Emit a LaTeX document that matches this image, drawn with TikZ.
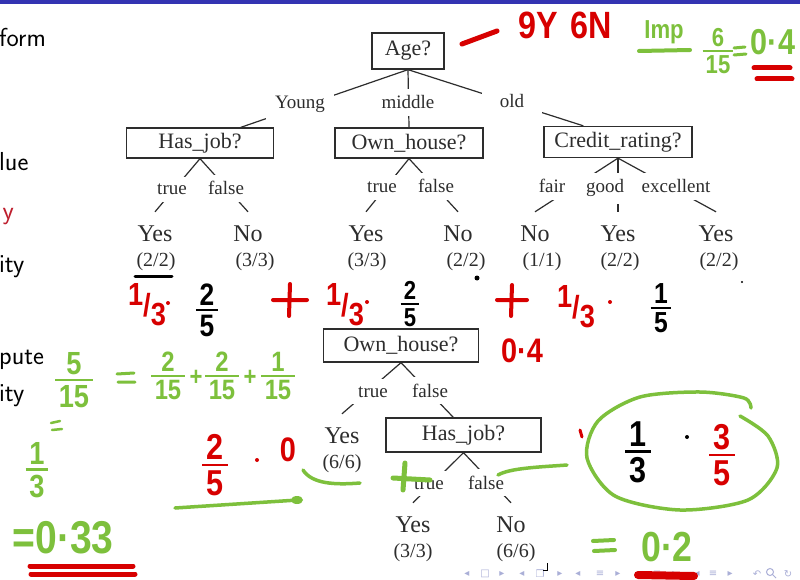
\documentclass[tikz,border=0pt]{standalone}
\usepackage{amsmath}
\usepackage{fontspec}
\setmainfont{Liberation Serif}
\newfontfamily\handfont[FakeStretch=0.85]{Liberation Sans}
\newfontfamily\navfont{DejaVu Sans}

\definecolor{beamerblue}{RGB}{51,51,178}
\definecolor{treeink}{RGB}{45,45,45}
\definecolor{alertred}{RGB}{190,30,45}
\definecolor{penred}{RGB}{215,0,0}
\definecolor{pengreen}{RGB}{125,192,60}
\definecolor{navgray}{RGB}{170,175,215}

\newcommand{\pxsize}[1]{\fontsize{#1}{#1}\selectfont}
\newcommand{\lift}{\rule{0pt}{28pt}}
% stacked pen fraction with a thick bar
\newcommand{\hwfrac}[2]{\ensuremath{\vcenter{\offinterlineskip\halign{\hfil\kern.12em##\kern.12em\hfil\cr
    #1\cr\noalign{\kern.12em\hrule height 2.4pt\kern.12em}#2\cr}}}}
\newcommand{\hwslash}[2]{\raisebox{.33em}{#1}/\raisebox{-.3em}{#2}}

\begin{document}
\begin{tikzpicture}[x=1pt, y=-1pt,
    % decision boxes of the tree
    qbox/.style={rectangle, draw=treeink, line width=1.3pt, inner sep=0pt,
                 minimum height=30pt, text=treeink, font=\pxsize{22}},
    % branch values, white so that they break the branch lines
    blabel/.style={fill=white, text=treeink, inner xsep=9pt, inner ysep=7pt,
                   anchor=base, font=\pxsize{19}},
    % class of a leaf (\lift raises its north anchor) and its count
    leaf/.style={text=treeink, inner sep=1pt, anchor=base, font=\pxsize{24}},
    nleaf/.style={text=treeink, inner sep=1pt, anchor=base, font=\pxsize{20}},
    branch/.style={draw=treeink, line width=1.2pt},
    % slide text cut off at the left edge
    slide/.style={anchor=base west, inner sep=0pt, font=\sffamily\pxsize{26}},
    % pen notes written over the slide
    penote/.style={inner sep=0pt, font=\handfont\bfseries\pxsize{#1}},
    penote/.default=32,
    inkline/.style={line width=4pt, line cap=round, line join=round},
    navsym/.style={text=navgray, inner sep=0pt, font=\navfont\pxsize{10}}
]
\useasboundingbox (0,0) rectangle (800,580);
\fill[white] (0,0) rectangle (800,580);
\fill[beamerblue] (0,0) rectangle (800,4);

%-------- SLIDE TEXT --------
\node[slide] (sform) at (-1,47) {form};
\node[slide] (slue) at (-1,171) {lue};
\node[slide, text=alertred, anchor=base east] (sy) at (14,219) {y};
\node[slide] (sity) at (-1,272) {ity};
\node[slide] (spute) at (-1,364) {pute};
\node[slide] (sitytwo) at (-1,401) {ity};

%-------- FULL TREE --------
\node[qbox, minimum width=72pt, minimum height=36pt] (age) at (408,51) {Age?};
\node[qbox, minimum width=147pt] (hasjob) at (200,143) {Has\_job?};
\node[qbox, minimum width=148pt] (ownhouse) at (409,143) {Own\_house?};
\node[qbox, minimum width=148pt, minimum height=31pt] (credit) at (618,142) {Credit\_rating?};

\node[leaf] (hjyes) at (155,241) {\lift Yes};
\node[nleaf] (hjyesn) at (156,266) {(2/2)};
\node[leaf] (hjno) at (248,241) {\lift No};
\node[nleaf] (hjnon) at (255,266) {(3/3)};
\node[leaf] (ohyes) at (366,241) {\lift Yes};
\node[nleaf] (ohyesn) at (367,266) {(3/3)};
\node[leaf] (ohno) at (458,241) {\lift No};
\node[nleaf] (ohnon) at (466,266) {(2/2)};
\node[leaf] (crno) at (535,241) {\lift No};
\node[nleaf] (crnon) at (542,266) {(1/1)};
\node[leaf] (cryes) at (618,241) {\lift Yes};
\node[nleaf] (cryesn) at (620,266) {(2/2)};
\node[leaf] (crexc) at (716,241) {\lift Yes};
\node[nleaf] (crexcn) at (719,266) {(2/2)};

\draw[branch] (age.south) -- (hasjob.21);
\draw[branch] (age.south) -- (ownhouse.north);
\draw[branch] (age.south) -- (credit.155);
\draw[branch] (hasjob.south) -- (hjyes.north);
\draw[branch] (hasjob.south) -- (hjno.north);
\draw[branch] (ownhouse.south) -- (ohyes.north);
\draw[branch] (ownhouse.south) -- (ohno.north);
\draw[branch] (credit.south) -- (crno.north);
\draw[branch] (credit.south) -- (cryes.north);
\draw[branch] (credit.south) -- (crexc.north);

\node[blabel] (lyoung) at (300,109) {Young};
\node[blabel] (lmiddle) at (408,109) {middle};
\node[blabel, inner xsep=18pt] (lold) at (512,108) {old};
\node[blabel] (lhjtrue) at (172,195) {true};
\node[blabel] (lhjfalse) at (226,195) {false};
\node[blabel] (lohtrue) at (382,193) {true};
\node[blabel] (lohfalse) at (436,193) {false};
\node[blabel, inner xsep=14pt] (lfair) at (552,193) {fair};
\node[blabel] (lgood) at (605,193) {good};
\node[blabel] (lexc) at (676,193) {excellent};

%-------- TREE FOR OLD = TRUE SPLIT --------
\node[qbox, minimum width=155pt, minimum height=33pt] (ownhousetwo) at (401,345.5) {Own\_house?};
\node[qbox, minimum width=155pt, minimum height=34pt] (hasjobtwo) at (463.5,435) {Has\_job?};
\node[leaf] (ohtyes) at (342,443) {\lift Yes};
\node[nleaf] (ohtyesn) at (342,468) {(6/6)};
\node[leaf] (hjtyes) at (413,532) {\lift Yes};
\node[nleaf] (hjtyesn) at (413,557) {(3/3)};
\node[leaf] (hjtno) at (511,532) {\lift No};
\node[nleaf] (hjtnon) at (516,557) {(6/6)};

\draw[branch] (ownhousetwo.south) -- (ohtyes.north);
\draw[branch] (ownhousetwo.south) -- (hasjobtwo.120);
\draw[branch] (hasjobtwo.south) -- (hjtyes.north);
\draw[branch] (hasjobtwo.south) -- (hjtno.north);

\node[blabel] (lohttrue) at (373,397) {true};
\node[blabel] (lohtfalse) at (430,397) {false};
\node[blabel] (lhjttrue) at (429,489) {true};
\node[blabel] (lhjtfalse) at (486,489) {false};

%-------- NAVIGATION SYMBOLS --------
\foreach \x/\s in {467/◂, 485/□, 502/▸, 522/◂, 540/❐, 560/▸, 578/◂, 600/≡, 618/▸,
                   640/◂, 657/≡, 675/▸, 697/◂, 713/≡, 730/▸, 757/↶, 788/↻}
    \node[navsym] (nav\x) at (\x,574) {\s};
\draw[navgray, line width=1pt] (770,572) circle (3.5) (772.5,574.5) -- (776,578);
\draw[black, line width=1pt] (547,563) -- (547,570) -- (543,570);

%-------- PEN NOTES: TOP --------
\draw[inkline, penred, line width=5pt] (462,44) -- (497,31);
\node[penote=38, text=penred] (counts) at (565,25) {9Y\hspace{12pt}6N};
\node[penote=26, text=pengreen] (imp) at (664,32) {Imp};
\draw[inkline, pengreen] (639,51) -- (690,50);
\node[penote=26, text=pengreen] (impfrac) at (718,51) {\hwfrac{6}{15}};
\draw[inkline, pengreen, line width=3pt] (734,48) -- (745,47) (734,55) -- (746,54);
\node[penote=36, text=pengreen] (impval) at (773,42) {0·4};
\draw[inkline, penred, line width=5pt] (754,68) -- (790,68) (757,79) -- (792,79);

%-------- PEN NOTES: WEIGHTED SUM --------
\draw[inkline, black, line width=3pt] (135,276) -- (172,276);
\node[penote=32, text=penred] (wyoung) at (147,305) {\hwslash{1}{3}};
\fill[penred] (168,303) circle (2);
\node[penote=31] (ryoung) at (207,310) {\hwfrac{2}{5}};
\draw[inkline, penred] (273,300) -- (307,300) (290,284) -- (289,316);
\node[penote=32, text=penred] (wmiddle) at (345,305) {\hwslash{1}{3}};
\fill[penred] (367,302) circle (2);
\node[penote=26] (rmiddle) at (410,304) {\hwfrac{2}{5}};
\fill[black] (477,278) circle (2.5);
\draw[inkline, penred] (497,300) -- (527,300) (512,285) -- (511,316);
\node[penote=32, text=penred] (wold) at (576,307) {\hwslash{1}{3}};
\fill[penred] (610,302) circle (2);
\node[penote=29] (rold) at (661,308) {\hwfrac{1}{5}};
\fill[black] (742,282) circle (1.2);
\node[penote=34, text=penred] (gain) at (522,351) {0·4};

%-------- PEN NOTES: LEFT --------
\node[penote=32, text=pengreen] (ratio) at (74,380) {\hwfrac{5}{15}};
\draw[inkline, pengreen, line width=3pt] (117,374) -- (134,373) (118,382) -- (135,382);
\node[penote=28, text=pengreen] (parta) at (168,376) {\hwfrac{2}{15}};
\node[penote=26, text=pengreen] (plusa) at (196,378) {+};
\node[penote=28, text=pengreen] (partb) at (222,376) {\hwfrac{2}{15}};
\node[penote=26, text=pengreen] (plusb) at (250,378) {+};
\node[penote=28, text=pengreen] (partc) at (278,376) {\hwfrac{1}{15}};
\draw[inkline, pengreen, line width=2.5pt] (51,423) -- (60,421) (52,430) -- (62,429);
\node[penote=32, text=pengreen] (third) at (37,470) {\hwfrac{1}{3}};
\node[penote=46, text=pengreen] (approx) at (63,538) {=0·33};
\draw[inkline, penred, line width=5pt] (30,566) -- (133,566) (31,574) -- (135,574);

%-------- PEN NOTES: SECOND SPLIT --------
\node[penote=36, text=penred] (wtrue) at (215,465) {\hwfrac{2}{5}};
\fill[penred] (257,460) circle (2);
\node[penote=34, text=penred] (rtrue) at (288,450) {0};
\draw[inkline, pengreen, line width=3.5pt] (175,508) -- (298,500);
\fill[pengreen] (297,500) ellipse (6 and 4);
\draw[inkline, pengreen, line width=3.5pt] (303,470) .. controls (312,484) and (335,485) .. (360,483);
\draw[inkline, pengreen, line width=5pt] (393,478) -- (430,480) (405,463) -- (403,490);
\draw[inkline, pengreen, line width=3.5pt] (498,475) .. controls (510,468) and (540,467) .. (567,465);
\draw[inkline, penred, line width=3pt] (580,430) -- (582,437);
\draw[inkline, pengreen, line width=3.5pt] plot[smooth] coordinates {(740,416) (768,436) (777,468)
    (748,500) (680,510) (615,496) (587,458) (598,421) (640,397) (700,392) (744,398) (751,408)};
\node[penote=36] (wfalse) at (638,452) {\hwfrac{1}{3}};
\fill[black] (687,437) circle (2);
\node[penote=36, text=penred] (rfalse) at (722,455) {\hwfrac{3}{5}};
\draw[inkline, pengreen] (593,541) -- (614,540) (594,551) -- (615,550);
\node[penote=42, text=pengreen] (result) at (667,547) {0·2};
\draw[inkline, penred, line width=8pt] (638,575) -- (694,576);

\end{tikzpicture}
\end{document}
